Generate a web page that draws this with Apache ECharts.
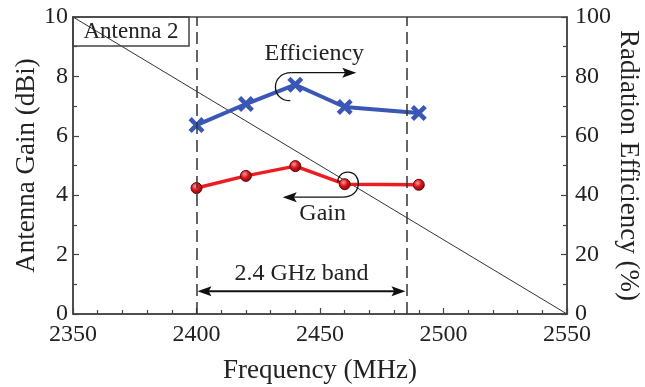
<!DOCTYPE html>
<html>
<head>
<meta charset="utf-8">
<script src="https://cdn.jsdelivr.net/npm/echarts@6/dist/echarts.min.js"></script>
<style>
  html, body { margin: 0; padding: 0; background: #fff; }
  #chart { width: 645px; height: 387px; }
</style>
</head>
<body>
<div id="chart"></div>
<script>
// measured points
const freq = [2400, 2420, 2440, 2460, 2490];
const efficiency = [63.6, 70.7, 77.2, 69.7, 67.7];   // %
const gain = [4.24, 4.65, 4.98, 4.37, 4.35];          // dBi
const bandEdges = [2400, 2485];
const refLine = [[2350, 10], [2550, 0]];

const FONT = '"Liberation Serif", "Times New Roman", serif';
const INK = '#222';
const AXIS = '#444';
const BLUE = '#3a57b5';
const RED = '#ec1c22';

const X_MARK = 'path://M2,0L5,3L8,0L10,2L7,5L10,8L8,10L5,7L2,10L0,8L3,5L0,2Z';

function axisStyle(extra) {
  return Object.assign({
    axisLine: { show: true, onZero: false, lineStyle: { color: AXIS, width: 1.5 } },
    axisTick: { show: true, inside: true, length: 6, lineStyle: { color: AXIS, width: 1.2 } },
    minorTick: { show: true, splitNumber: 2, length: 4, lineStyle: { color: AXIS, width: 1.2 } },
    splitLine: { show: false },
    nameTextStyle: { fontFamily: FONT, fontSize: 27, color: INK },
    nameLocation: 'middle',
    nameMoveOverlap: false
  }, extra);
}

function label(margin) {
  return { fontFamily: FONT, fontSize: 24, color: INK, margin: margin, formatter: v => String(v) };
}

const chart = echarts.init(document.getElementById('chart'));

chart.setOption({
  animation: false,
  backgroundColor: '#fff',
  grid: {
    left: 73, right: 78, top: 17, bottom: 73,
    show: true, borderColor: AXIS, borderWidth: 1.5,
    outerBoundsMode: 'none'
  },
  xAxis: axisStyle({
    type: 'value', min: 2350, max: 2550, interval: 50,
    name: 'Frequency (MHz)', nameGap: 43,
    minorTick: { show: true, splitNumber: 5, length: 4, lineStyle: { color: AXIS, width: 1.2 } },
    axisLabel: label(9)
  }),
  yAxis: [
    axisStyle({
      type: 'value', min: 0, max: 10, interval: 2, position: 'left',
      name: 'Antenna Gain (dBi)', nameGap: 33,
      axisLabel: label(5)
    }),
    axisStyle({
      type: 'value', min: 0, max: 100, interval: 20, position: 'right',
      name: 'Radiation Efficiency (%)', nameGap: 48, nameRotate: -90,
      axisLabel: label(8)
    })
  ],
  series: [
    {
      name: 'diagonal',
      type: 'line',
      yAxisIndex: 0,
      data: refLine,
      symbol: 'none',
      silent: true,
      z: 1,
      lineStyle: { color: '#333', width: 1 },
      markLine: {
        silent: true,
        symbol: 'none',
        label: { show: false },
        lineStyle: { color: '#333', width: 1.5, type: [12, 6] },
        data: bandEdges.map(v => ({ xAxis: v }))
      }
    },
    {
      name: 'Efficiency',
      type: 'line',
      yAxisIndex: 1,
      data: freq.map((f, i) => [f, efficiency[i]]),
      symbol: X_MARK,
      symbolSize: 16,
      z: 4,
      lineStyle: { color: BLUE, width: 4 },
      itemStyle: { color: BLUE }
    },
    {
      name: 'Gain',
      type: 'line',
      yAxisIndex: 0,
      data: freq.map((f, i) => [f, gain[i]]),
      symbol: 'circle',
      symbolSize: 11,
      z: 4,
      lineStyle: { color: RED, width: 3.5 },
      itemStyle: {
        color: new echarts.graphic.RadialGradient(0.4, 0.35, 0.7, [
          { offset: 0, color: '#ff9a9a' },
          { offset: 0.45, color: '#d8141a' },
          { offset: 1, color: '#7a0a0a' }
        ]),
        borderColor: '#6a0808',
        borderWidth: 1
      }
    }
  ]
});

// annotations, placed relative to data points
function px(x, y, yAxisIndex) {
  return chart.convertToPixel({ xAxisIndex: 0, yAxisIndex: yAxisIndex }, [x, y]);
}

const stroke = { stroke: '#111', lineWidth: 1.3, fill: null };

function arrowHead(tx, ty, dir) {
  const L = 14, W = 10;
  return {
    type: 'polygon', z: 10,
    shape: { points: [[tx, ty], [tx - dir * L, ty - W / 2], [tx - dir * L * 0.8, ty], [tx - dir * L, ty + W / 2]] },
    style: { fill: '#111' }
  };
}

function seg(x1, y1, x2, y2, w) {
  return { type: 'line', z: 10, shape: { x1, y1, x2, y2 }, style: { stroke: '#111', lineWidth: w || 1.3 } };
}

function curve(x1, y1, cpx1, cpy1, cpx2, cpy2, x2, y2) {
  return { type: 'bezierCurve', z: 10, shape: { x1, y1, cpx1, cpy1, cpx2, cpy2, x2, y2 }, style: stroke };
}

function textAt(x, y, str, size) {
  return {
    type: 'text', x: x, y: y, z: 10,
    style: { text: str, fontFamily: FONT, fontSize: size, fill: INK, align: 'center', verticalAlign: 'middle' }
  };
}

const g = [];

// Antenna 2 label box
const corner = px(2350, 10, 0);
g.push({
  type: 'rect', z: 10,
  shape: { x: corner[0], y: corner[1], width: 116, height: 29 },
  style: { fill: null, stroke: AXIS, lineWidth: 1.5 }
});
g.push(textAt(corner[0] + 58, corner[1] + 15, 'Antenna 2', 23));

// Efficiency pointer
const pe = px(freq[2], efficiency[2], 1);
g.push(seg(pe[0] - 4, pe[1] - 12, pe[0] + 52, pe[1] - 12));
g.push(curve(pe[0] - 4, pe[1] - 12, pe[0] - 25, pe[1] - 12, pe[0] - 25, pe[1] + 16, pe[0] - 5, pe[1] + 16));
g.push(arrowHead(pe[0] + 61, pe[1] - 12, 1));
g.push(textAt(pe[0] + 19, pe[1] - 31, 'Efficiency', 24));

// Gain pointer
const pg = px(freq[3], gain[3], 0);
g.push(seg(pg[0] - 52, pg[1] + 13, pg[0] - 2, pg[1] + 13));
g.push(curve(pg[0] - 2, pg[1] + 13, pg[0] + 18, pg[1] + 13, pg[0] + 18, pg[1] - 12, pg[0] + 3, pg[1] - 12));
g.push(curve(pg[0] + 3, pg[1] - 12, pg[0] - 4, pg[1] - 12, pg[0] - 7, pg[1] - 6, pg[0] - 7, pg[1] - 2));
g.push(arrowHead(pg[0] - 62, pg[1] + 13, -1));
g.push(textAt(pg[0] - 22, pg[1] + 29, 'Gain', 24));

// band arrow
const b0 = px(bandEdges[0], 0.77, 0);
const b1 = px(bandEdges[1], 0.77, 0);
g.push(seg(b0[0] + 8, b0[1], b1[0] - 8, b1[1], 2));
g.push(arrowHead(b0[0] + 1, b0[1], -1));
g.push(arrowHead(b1[0] - 1, b1[1], 1));
g.push(textAt((b0[0] + b1[0]) / 2, px(2400, 1.35, 0)[1], '2.4 GHz band', 24));

chart.setOption({ graphic: g });
</script>
</body>
</html>
